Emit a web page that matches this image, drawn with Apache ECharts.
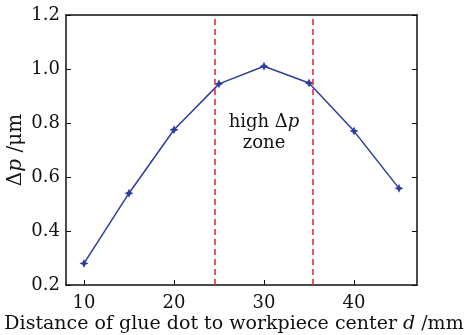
<!DOCTYPE html>
<html><head><meta charset="utf-8">
<script src="https://cdn.jsdelivr.net/npm/echarts@6/dist/echarts.min.js"></script>
<style>html,body{margin:0;padding:0;background:#fff}#c{width:474px;height:335px}</style>
</head><body><div id="c"></div>
<script>
const distances = [10, 15, 20, 25, 30, 35, 40, 45];
const deltaP = [0.28, 0.54, 0.775, 0.945, 1.01, 0.948, 0.77, 0.558];
const zoneBounds = [24.5, 35.4];
const xTicks = [10, 20, 30, 40];
const yTicks = [0.2, 0.4, 0.6, 0.8, 1.0, 1.2];
const annotation = { x: 30, y: 0.765 };

const FONT = 'DejaVu Serif';
const chart = echarts.init(document.getElementById('c'));
const starPath = 'path://M0,-5L1.6,-1.6L5,0L1.6,1.6L0,5L-1.6,1.6L-5,0L-1.6,-1.6Z';
const axisLineStyle = { color: '#111', width: 1.5 };
const baseX = {
  type: 'value', min: 8, max: 47,
  axisLine: { show: true, lineStyle: axisLineStyle },
  splitLine: { show: false }
};
const baseY = {
  type: 'value', min: 0.2, max: 1.2,
  axisLine: { show: true, lineStyle: axisLineStyle },
  splitLine: { show: false },
  axisTick: { show: true, inside: true, length: 5, customValues: yTicks, lineStyle: { color: '#111' } }
};
chart.setOption({
  animation: false,
  backgroundColor: '#fff',
  grid: { left: 66, right: 57, top: 15, bottom: 50, containLabel: false, outerBoundsMode: 'none' },
  xAxis: [
    Object.assign({}, baseX, {
      position: 'bottom',
      axisTick: { show: true, inside: true, length: 5, customValues: xTicks, lineStyle: { color: '#111' } },
      axisLabel: { customValues: xTicks, fontFamily: FONT, fontSize: 18, color: '#111', margin: 9 },
      name: '{n|Distance of glue dot to workpiece center }{i|d}{n| /mm}',
      nameLocation: 'middle', nameGap: 30, nameMoveOverlap: false,
      nameTextStyle: { padding: [0, 15, 0, 0], rich: {
        n: { fontFamily: FONT, fontSize: 19, color: '#111' },
        i: { fontFamily: FONT, fontSize: 19, fontStyle: 'italic', color: '#111' } } }
    }),
    Object.assign({}, baseX, { position: 'top', axisTick: { show: false }, axisLabel: { show: false } })
  ],
  yAxis: [
    Object.assign({}, baseY, {
      position: 'left',
      axisLabel: { customValues: yTicks, fontFamily: FONT, fontSize: 18, color: '#111', margin: 6,
        formatter: v => v.toFixed(1) },
      name: '{n|Δ}{i|p}{n| /μm}',
      nameLocation: 'middle', nameGap: 40, nameRotate: 90, nameMoveOverlap: false,
      nameTextStyle: { rich: {
        n: { fontFamily: FONT, fontSize: 20, color: '#111' },
        i: { fontFamily: FONT, fontSize: 20, fontStyle: 'italic', color: '#111' } } }
    }),
    Object.assign({}, baseY, { position: 'right', axisLabel: { show: false } })
  ],
  series: [
    {
      type: 'line',
      data: distances.map((d, i) => [d, deltaP[i]]),
      lineStyle: { color: '#2f3d9c', width: 1.5 },
      itemStyle: { color: '#2f3d9c' },
      symbol: starPath, symbolSize: 9,
      z: 3,
      markLine: {
        silent: true, symbol: 'none', label: { show: false },
        lineStyle: { color: '#e0303a', type: [6, 4], width: 1.6 },
        data: zoneBounds.map(v => ({ xAxis: v }))
      },
      markPoint: {
        symbol: 'rect', symbolSize: 2,
        itemStyle: { color: 'rgba(0,0,0,0)' },
        data: [{ coord: [annotation.x, annotation.y] }],
        label: {
          show: true, position: 'inside',
          formatter: '{n|high Δ}{i|p}\n{n|zone}',
          align: 'center',
          rich: {
            n: { fontFamily: FONT, fontSize: 18, color: '#111', lineHeight: 21 },
            i: { fontFamily: FONT, fontSize: 18, fontStyle: 'italic', color: '#111', lineHeight: 21 }
          }
        }
      }
    }
  ]
});
</script></body></html>
